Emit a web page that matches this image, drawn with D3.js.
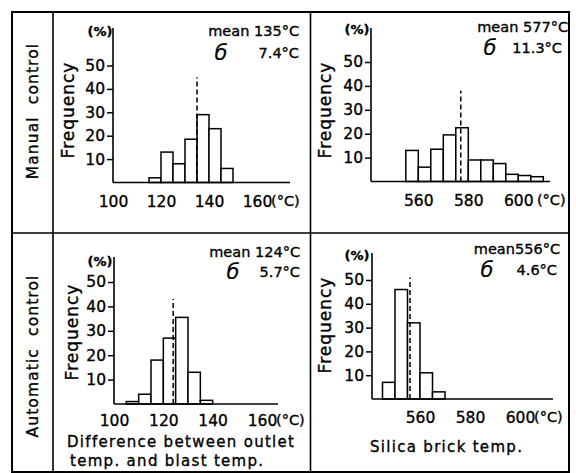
<!DOCTYPE html>
<html>
<head>
<meta charset="utf-8">
<script src="https://cdn.jsdelivr.net/npm/d3@7"></script>
<style>
  body { margin: 0; background: #fff; }
  svg { display: block; font-family: "DejaVu Sans", sans-serif; }
  text { stroke: #000; stroke-width: 0.35px; }
</style>
</head>
<body>
<div id="chart"></div>
<script>
// Histogram data (bin start, width 5, frequency in %)
const manualOutletBins = [115, 120, 125, 130, 135, 140, 145];
const manualOutletFreq = [2, 13, 8, 18.5, 29, 23, 6];
const manualSilicaBins = [555, 560, 565, 570, 575, 580, 585, 590, 595, 600, 605];
const manualSilicaFreq = [13, 6, 13.5, 19.5, 22.5, 9, 9, 7.5, 3, 2.5, 2];
const autoOutletBins = [105, 110, 115, 120, 125, 130, 135];
const autoOutletFreq = [1, 4, 18, 27, 35.5, 13, 1.5];
const autoSilicaBins = [545, 550, 555, 560, 565];
const autoSilicaFreq = [7, 46, 32, 11, 3];

const binWidth = 5;
const outletTicks = [100, 120, 140, 160];
const silicaTicks = [560, 580, 600];
const freqTicks = [10, 20, 30, 40, 50];
const means = [135, 577, 124, 556];
const meanLineTop = [45, 38, 43, 51];
const meanLabels = ["mean 135°C", "mean 577°C", "mean 124°C", "mean556°C"];
const sigmaLabels = ["7.4°C", "11.3°C", "5.7°C", "4.6°C"];
const rowLabels = ["Manual  control", "Automatic  control"];

const W = 576, H = 473;
const svg = d3.select("#chart").append("svg").attr("width", W).attr("height", H);

// frame
svg.append("rect").attr("x", 12).attr("y", 12).attr("width", 557).attr("height", 460)
  .attr("fill", "none").attr("stroke", "#000").attr("stroke-width", 2);
[[53, 12, 53, 472], [310.5, 12, 310.5, 472], [12, 233, 569, 233]].forEach(l => {
  svg.append("line").attr("x1", l[0]).attr("y1", l[1]).attr("x2", l[2]).attr("y2", l[3])
    .attr("stroke", "#000").attr("stroke-width", 1.6);
});

// row labels
[[33, 111], [33, 356]].forEach((p, i) => {
  svg.append("text").attr("transform", `translate(${p[0]},${p[1]}) rotate(-90)`)
    .attr("text-anchor", "middle").attr("dominant-baseline", "central")
    .attr("font-size", 15.5).attr("letter-spacing", 1.1).style("white-space", "pre")
    .text(rowLabels[i]);
});

// panel layouts
const panels = [
  { bins: manualOutletBins, freq: manualOutletFreq, ticks: outletTicks, xd: [100, 160], xr: [113, 257],
    yr: [182.5, 65.5], left: 113, right: 290, top: 28, unit: "(°C)", tickY: 201,
    pct: [100, 36], freqX: 68, freqY: 110, meanEnd: 299, meanY: 36, sigX: 221, sigEnd: 299, sigY: 58 },
  { bins: manualSilicaBins, freq: manualSilicaFreq, ticks: silicaTicks, xd: [560, 600], xr: [418.3, 518.3],
    yr: [181.5, 62], left: 371, right: 550, top: 28, unit: " (°C)", tickY: 200,
    pct: [357, 34], freqX: 325, freqY: 110, meanEnd: 568, meanY: 32, sigX: 490, sigEnd: 562, sigY: 53 },
  { bins: autoOutletBins, freq: autoOutletFreq, ticks: outletTicks, xd: [100, 160], xr: [114, 262],
    yr: [404, 282], left: 114, right: 278, top: 257, unit: "(°C)", tickY: 420,
    pct: [100, 266], freqX: 72, freqY: 332, meanEnd: 300, meanY: 257, sigX: 233, sigEnd: 300, sigY: 277 },
  { bins: autoSilicaBins, freq: autoSilicaFreq, ticks: silicaTicks, xd: [560, 600], xr: [420, 520],
    yr: [399, 280], left: 372, right: 553, top: 253, unit: "(°C)", tickY: 417,
    pct: [357, 260], freqX: 325, freqY: 325, meanEnd: 560, meanY: 254, sigX: 487, sigEnd: 557, sigY: 275 }
];

panels.forEach((p, i) => {
  const g = svg.append("g");
  const x = d3.scaleLinear().domain(p.xd).range(p.xr);
  const y = d3.scaleLinear().domain([0, 50]).range(p.yr);

  // bars
  g.selectAll("rect.bar").data(p.bins).enter().append("rect")
    .attr("class", "bar")
    .attr("x", d => x(d))
    .attr("y", (d, j) => y(p.freq[j]))
    .attr("width", d => x(d + binWidth) - x(d))
    .attr("height", (d, j) => y(0) - y(p.freq[j]))
    .attr("fill", "#fff").attr("stroke", "#000").attr("stroke-width", 1.5);

  // mean line
  g.append("line").attr("x1", x(means[i])).attr("x2", x(means[i]))
    .attr("y1", y(0)).attr("y2", y(meanLineTop[i]))
    .attr("stroke", "#000").attr("stroke-width", 1.5).attr("stroke-dasharray", "5,3");

  // axis lines
  g.append("line").attr("x1", p.left).attr("x2", p.left).attr("y1", p.top).attr("y2", y(0))
    .attr("stroke", "#000").attr("stroke-width", 1.6);
  g.append("line").attr("x1", p.left).attr("x2", p.right).attr("y1", y(0)).attr("y2", y(0))
    .attr("stroke", "#000").attr("stroke-width", 1.6);

  // y axis ticks
  const ya = g.append("g").attr("transform", `translate(${p.left},0)`)
    .call(d3.axisLeft(y).tickValues(freqTicks).tickSize(6).tickPadding(2));
  ya.select(".domain").remove();
  ya.selectAll("line").attr("stroke-width", 1.5);
  ya.selectAll("text").attr("font-size", 15.5).attr("font-family", "DejaVu Sans").attr("fill", "#000");

  // x axis labels
  const xa = g.append("g").attr("transform", `translate(0,${y(0)})`)
    .call(d3.axisBottom(x).tickValues(p.ticks).tickSize(0));
  xa.select(".domain").remove();
  xa.selectAll("text").attr("y", p.tickY - y(0)).attr("dy", "0.36em")
    .attr("font-size", 15.5).attr("font-family", "DejaVu Sans").attr("fill", "#000");
  const last = p.ticks[p.ticks.length - 1];
  g.append("text").attr("x", x(last) + 14).attr("y", p.tickY).attr("dy", "0.36em")
    .attr("font-size", 14.5).style("white-space", "pre").text(p.unit);

  // (%) and Frequency
  g.append("text").attr("x", p.pct[0]).attr("y", p.pct[1]).attr("text-anchor", "middle")
    .attr("font-size", 13).attr("font-weight", "bold").text("(%)");
  g.append("text").attr("transform", `translate(${p.freqX},${p.freqY}) rotate(-90)`)
    .attr("text-anchor", "middle").attr("dominant-baseline", "central")
    .attr("font-size", 17).attr("letter-spacing", 1).text("Frequency");

  // mean / sigma annotations
  g.append("text").attr("x", p.meanEnd).attr("y", p.meanY).attr("text-anchor", "end")
    .attr("font-size", 14.5).text(meanLabels[i]);
  g.append("text").attr("x", p.sigX).attr("y", p.sigY + 2).attr("text-anchor", "middle")
    .attr("font-size", 21).attr("font-style", "italic").style("stroke-width", "0.2px").text("б");
  g.append("text").attr("x", p.sigEnd).attr("y", p.sigY).attr("text-anchor", "end")
    .attr("font-size", 14.5).text(sigmaLabels[i]);
});

// x axis titles
svg.append("text").attr("x", 67).attr("y", 447).attr("font-size", 15).attr("letter-spacing", 1.3)
  .text("Difference between outlet");
svg.append("text").attr("x", 70).attr("y", 466).attr("font-size", 15).attr("letter-spacing", 1.3)
  .text("temp. and blast temp.");
svg.append("text").attr("x", 370).attr("y", 452).attr("font-size", 15).attr("letter-spacing", 1.3)
  .text("Silica brick temp.");
</script>
</body>
</html>
